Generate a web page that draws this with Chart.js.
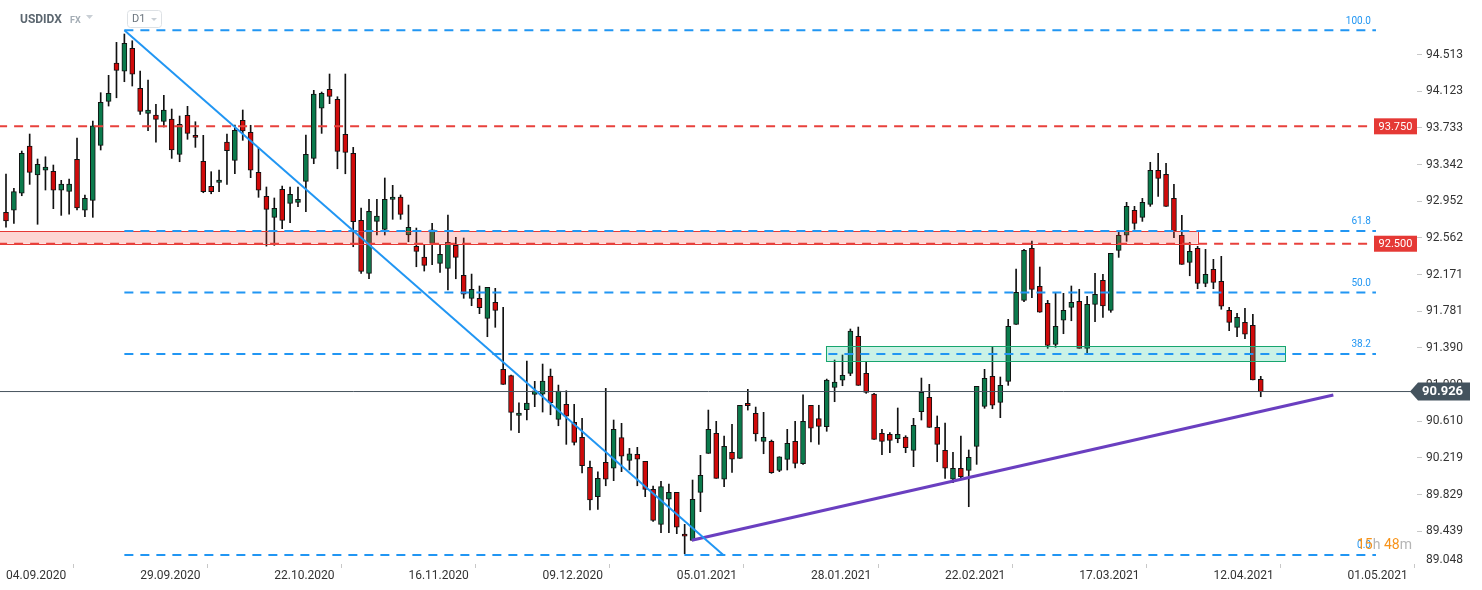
<!DOCTYPE html>
<html>
<head>
<meta charset="utf-8">
<script src="https://cdn.jsdelivr.net/npm/chart.js@4.4.1/dist/chart.umd.min.js"></script>
<style>
  html, body { margin: 0; padding: 0; background: #fff; }
</style>
</head>
<body>
<canvas id="usdidx" width="1482" height="590"></canvas>
<script>
// USDIDX D1 - candles as floating bars (wick + body)
const opens = [
  92.835, 92.856, 93.037, 93.540, 93.232, 93.282, 93.271, 93.069, 93.058, 93.399,
  92.856, 92.962, 93.548, 94.016, 94.424, 94.336, 94.580, 94.155, 93.888, 93.870,
  93.803, 93.828, 93.452, 93.867, 93.654, 93.377, 93.111, 93.154, 93.583, 93.388,
  93.814, 93.686, 93.260, 93.005, 92.781, 93.079, 92.930, 92.941, 93.164, 93.409,
  93.942, 94.144, 94.037, 93.665, 93.462, 92.749, 92.185, 92.738, 92.653, 92.973,
  92.997, 92.593, 92.472, 92.358, 92.504, 92.291, 92.238, 92.483, 92.164, 91.919,
  91.919, 91.706, 91.876, 91.163, 91.095, 90.673, 90.732, 90.896, 90.897, 91.091,
  90.630, 90.790, 90.598, 90.439, 90.119, 89.806, 90.173, 90.109, 90.435, 90.194,
  90.258, 90.183, 89.885, 89.512, 89.779, 89.853, 89.409, 89.342, 89.853, 90.268,
  90.481, 89.992, 90.279, 90.215, 90.801, 90.694, 90.396, 90.396, 90.087, 90.204,
  90.396, 90.158, 90.780, 90.637, 90.552, 90.969, 91.046, 91.120, 91.514, 91.120,
  90.900, 90.481, 90.471, 90.424, 90.442, 90.300, 90.711, 90.865, 90.545, 90.300,
  89.992, 90.109, 90.087, 90.343, 90.769, 91.088, 90.811, 91.035, 91.642, 91.897,
  92.451, 92.046, 91.865, 91.429, 91.685, 91.823, 91.887, 91.386, 91.855, 92.110,
  91.791, 92.430, 92.590, 92.856, 92.781, 92.919, 93.281, 93.239, 92.983, 92.590,
  92.302, 92.451, 92.078, 92.227, 92.100, 91.791, 91.610, 91.663, 91.631, 91.056
];
const highs = [
  93.242, 93.090, 93.487, 93.668, 93.402, 93.426, 93.338, 93.175, 93.189, 93.625,
  93.019, 93.806, 94.108, 94.293, 94.644, 94.733, 94.661, 94.339, 94.243, 93.984,
  94.080, 93.934, 93.860, 93.963, 93.799, 93.654, 93.267, 93.285, 93.668, 93.764,
  93.924, 93.761, 93.519, 93.104, 92.987, 93.114, 93.104, 93.104, 93.657, 94.133,
  94.115, 94.307, 94.065, 94.307, 93.526, 92.880, 92.973, 92.973, 93.200, 93.122,
  93.019, 92.912, 92.667, 92.483, 92.717, 92.486, 92.806, 92.568, 92.561, 92.177,
  92.050, 92.036, 92.025, 91.823, 91.102, 90.807, 91.251, 91.035, 91.219, 91.166,
  90.995, 90.935, 90.790, 90.641, 90.186, 90.072, 90.960, 90.623, 90.588, 90.321,
  90.332, 90.183, 89.920, 89.970, 89.942, 89.853, 89.512, 89.984, 90.247, 90.729,
  90.609, 90.453, 90.577, 90.780, 90.950, 90.761, 90.705, 90.410, 90.232, 90.524,
  90.609, 90.892, 90.780, 90.780, 91.059, 91.262, 91.315, 91.592, 91.613, 91.248,
  90.907, 90.524, 90.488, 90.751, 90.456, 90.641, 91.070, 91.003, 90.666, 90.591,
  90.279, 90.452, 90.304, 90.982, 91.163, 91.400, 91.081, 91.695, 92.231, 92.440,
  92.529, 92.252, 91.897, 91.972, 91.972, 92.050, 92.015, 91.940, 92.185, 92.174,
  92.398, 92.621, 92.941, 92.898, 92.983, 93.367, 93.463, 93.356, 93.132, 92.802,
  92.515, 92.472, 92.440, 92.334, 92.366, 91.823, 91.759, 91.812, 91.748, 91.088
];
const lows = [
  92.675, 92.717, 93.011, 93.132, 92.707, 93.072, 92.873, 92.802, 92.816, 92.859,
  92.787, 92.781, 93.498, 93.966, 94.054, 94.225, 94.179, 93.878, 93.703, 93.580,
  93.743, 93.409, 93.373, 93.612, 93.526, 93.043, 93.032, 93.054, 93.132, 93.245,
  93.601, 93.203, 92.994, 92.475, 92.483, 92.660, 92.724, 92.894, 92.841, 93.352,
  93.675, 93.991, 93.298, 93.245, 92.468, 92.185, 92.127, 92.593, 92.593, 92.760,
  92.760, 92.521, 92.255, 92.209, 92.276, 92.195, 92.007, 92.127, 91.919, 91.840,
  91.755, 91.510, 91.610, 91.003, 90.516, 90.488, 90.623, 90.765, 90.708, 90.679,
  90.562, 90.364, 90.357, 90.059, 89.665, 89.672, 89.923, 89.977, 90.073, 90.091,
  89.923, 89.807, 89.544, 89.423, 89.423, 89.413, 89.199, 89.342, 89.647, 90.268,
  90.002, 89.913, 90.066, 90.215, 90.729, 90.399, 90.264, 90.055, 90.073, 90.091,
  90.112, 90.151, 90.389, 90.364, 90.503, 90.818, 90.988, 91.095, 90.992, 90.907,
  90.417, 90.253, 90.275, 90.381, 90.275, 90.126, 90.623, 90.545, 90.179, 90.002,
  89.955, 89.992, 89.700, 90.151, 90.748, 90.743, 90.648, 90.992, 91.642, 91.882,
  91.925, 91.770, 91.386, 91.397, 91.542, 91.680, 91.386, 91.322, 91.669, 91.716,
  91.770, 92.355, 92.525, 92.653, 92.738, 92.898, 93.005, 92.898, 92.564, 92.281,
  92.159, 92.021, 92.042, 92.021, 91.802, 91.574, 91.510, 91.488, 91.049, 90.871
];
const closes = [
  92.742, 93.054, 93.462, 93.260, 93.345, 93.317, 93.069, 93.136, 93.136, 92.880,
  92.983, 93.756, 94.005, 94.101, 94.346, 94.634, 94.304, 93.910, 93.924, 93.824,
  93.924, 93.498, 93.771, 93.675, 93.633, 93.054, 93.054, 93.178, 93.490, 93.707,
  93.700, 93.282, 93.069, 92.866, 92.877, 92.749, 93.026, 92.973, 93.452, 94.094,
  94.101, 94.069, 93.484, 93.473, 92.734, 92.206, 92.845, 92.795, 92.973, 92.997,
  92.813, 92.675, 92.419, 92.270, 92.649, 92.387, 92.515, 92.355, 91.964, 92.015,
  91.819, 92.036, 91.791, 91.003, 90.705, 90.697, 90.804, 90.935, 91.038, 90.807,
  90.932, 90.665, 90.385, 90.136, 89.771, 90.002, 89.992, 90.524, 90.237, 90.264,
  90.205, 89.885, 89.555, 89.913, 89.853, 89.481, 89.385, 89.779, 90.034, 90.524,
  90.002, 90.343, 90.205, 90.780, 90.775, 90.474, 90.439, 90.062, 90.232, 90.375,
  90.162, 90.609, 90.535, 90.556, 91.049, 91.026, 91.099, 91.571, 90.992, 90.918,
  90.417, 90.396, 90.407, 90.471, 90.328, 90.566, 90.918, 90.545, 90.364, 90.109,
  90.109, 90.019, 90.226, 90.982, 91.067, 90.780, 90.992, 91.621, 91.983, 92.430,
  92.014, 91.770, 91.418, 91.621, 91.791, 91.876, 91.386, 91.855, 91.961, 91.837,
  92.398, 92.590, 92.898, 92.717, 92.941, 93.281, 93.196, 92.898, 92.635, 92.281,
  92.419, 92.078, 92.174, 92.089, 91.834, 91.663, 91.716, 91.536, 91.049, 90.926
];

// axis ticks (every 17 sessions)
const tickIdx = [0, 17, 34, 51, 68, 85, 102, 119, 136, 153, 170];
const tickLabels = ['04.09.2020', '29.09.2020', '22.10.2020', '16.11.2020', '09.12.2020', '05.01.2021',
                    '28.01.2021', '22.02.2021', '17.03.2021', '12.04.2021', '01.05.2021'];
const priceTicks = [94.513, 94.123, 93.733, 93.342, 92.952, 92.562, 92.171, 91.781,
                    91.390, 91.000, 90.610, 90.219, 89.829, 89.439];
const bottomTick = 89.048;

// drawings
const fibLevels = [94.772, 92.636, 91.981, 91.326, 89.186];
const fibNames = ['100.0', '61.8', '50.0', '38.2', '0.0'];
const fibRange = [15, 173.6];
const redLevels = [93.750, 92.500];
const redLevelRange = [-1, 173.6];
const blueTrend = [[15, 94.772], [90.9, 89.186]];
const purpleTrend = [[86.9, 89.342], [168.2, 90.89]];
const redZone = [-1, 151, 92.500, 92.635];
const greenZone = [103.9, 162.1, 91.251, 91.408];
const lastPrice = 90.926;

const GREEN = '#0b7a4c';
const RED = '#d10a0a';
const BLUE = '#2196f3';

const datasets = [];
datasets.push({
    type: 'bar', label: 'wick', order: 12, grouped: false,
    data: highs.map((h, i) => ({ x: i, y: [lows[i], h] })),
    backgroundColor: '#111', barThickness: 1, borderWidth: 0
});
datasets.push({
    type: 'bar', label: 'body', order: 11, grouped: false,
    data: opens.map((o, i) => ({ x: i, y: [o, closes[i]] })),
    backgroundColor: opens.map((o, i) => closes[i] >= o ? GREEN : RED),
    borderColor: '#111', borderWidth: 1, borderSkipped: false,
    barThickness: 5, minBarLength: 2
});
fibLevels.forEach(v => datasets.push({
    type: 'line', order: 2, data: [{ x: fibRange[0], y: v }, { x: fibRange[1], y: v }],
    borderColor: BLUE, borderWidth: 2, borderDash: [9, 7], pointRadius: 0
}));
redLevels.forEach(v => datasets.push({
    type: 'line', order: 2, data: [{ x: redLevelRange[0], y: v }, { x: redLevelRange[1], y: v }],
    borderColor: '#e8413c', borderWidth: 2, borderDash: [9, 7], pointRadius: 0
}));
datasets.push({
    type: 'line', order: 1, data: blueTrend.map(p => ({ x: p[0], y: p[1] })),
    borderColor: BLUE, borderWidth: 2, pointRadius: 0
});
datasets.push({
    type: 'line', order: 1, data: purpleTrend.map(p => ({ x: p[0], y: p[1] })),
    borderColor: '#6a3fc0', borderWidth: 3, pointRadius: 0
});
datasets.push({
    type: 'line', order: 3, data: [{ x: -1, y: lastPrice }, { x: 180, y: lastPrice }],
    borderColor: '#45525c', borderWidth: 1, pointRadius: 0
});

// zones go over the candles but under the lines
const zonesPlugin = {
    id: 'zones',
    afterDatasetDraw(chart, args) {
        if (args.index !== 1) return;
        const { ctx, scales: { x, y } } = chart;
        const drawZone = (z, fill, stroke) => {
            const x0 = x.getPixelForValue(z[0]), x1 = x.getPixelForValue(z[1]);
            const y0 = y.getPixelForValue(z[3]), y1 = y.getPixelForValue(z[2]);
            ctx.fillStyle = fill;
            ctx.fillRect(x0, y0, x1 - x0, y1 - y0);
            ctx.strokeStyle = stroke;
            ctx.lineWidth = 1;
            ctx.strokeRect(Math.round(x0) + 0.5, Math.round(y0) + 0.5, Math.round(x1 - x0), Math.round(y1 - y0));
        };
        ctx.save();
        drawZone(redZone, 'rgba(244, 67, 54, 0.22)', '#e53935');
        drawZone(greenZone, 'rgba(38, 200, 150, 0.24)', '#17a56e');
        ctx.restore();
    }
};

const labelsPlugin = {
    id: 'labels',
    afterDraw(chart) {
        const { ctx, chartArea, scales: { x, y } } = chart;
        ctx.save();

        // header
        ctx.textBaseline = 'middle';
        ctx.font = 'bold 12px Roboto';
        ctx.fillStyle = '#5c6770';
        ctx.fillText('USDIDX', 20, 20);
        ctx.font = 'bold 9px Roboto';
        ctx.fillStyle = '#a3acb4';
        ctx.fillText('FX', 70, 21);
        ctx.fillStyle = '#c9cfd5';
        ctx.beginPath(); ctx.moveTo(86, 15); ctx.lineTo(93, 15); ctx.lineTo(89.5, 19); ctx.fill();
        ctx.strokeStyle = '#dde1e5';
        ctx.lineWidth = 1;
        ctx.beginPath();
        ctx.roundRect(127.5, 10.5, 34, 17, 3);
        ctx.stroke();
        ctx.font = '11px Roboto';
        ctx.fillStyle = '#6b757e';
        ctx.fillText('D1', 132, 19.5);
        ctx.fillStyle = '#c9cfd5';
        ctx.beginPath(); ctx.moveTo(151, 18); ctx.lineTo(157, 18); ctx.lineTo(154, 21); ctx.fill();

        // fibonacci labels
        ctx.font = '10px Roboto';
        ctx.fillStyle = BLUE;
        ctx.textAlign = 'right';
        ctx.textBaseline = 'bottom';
        const fx = x.getPixelForValue(fibRange[1]) - 5;
        fibLevels.forEach((v, i) => ctx.fillText(fibNames[i], fx, y.getPixelForValue(v) - 4));

        // countdown
        ctx.textAlign = 'left';
        ctx.textBaseline = 'middle';
        ctx.font = '14px Roboto';
        let cx = 1357;
        [['15', '#f7931a'], ['h ', '#b5b5b5'], ['48', '#f7931a'], ['m', '#b5b5b5']].forEach(p => {
            ctx.fillStyle = p[1];
            ctx.fillText(p[0], cx, 545);
            cx += ctx.measureText(p[0]).width;
        });

        // red level boxes
        ctx.font = '11px Roboto';
        ctx.textAlign = 'center';
        redLevels.forEach(v => {
            const py = y.getPixelForValue(v);
            ctx.fillStyle = '#e53935';
            ctx.fillRect(chartArea.right - 43, py - 8, 43, 16);
            ctx.fillStyle = '#fff';
            ctx.fillText(v.toFixed(3), chartArea.right - 21.5, py + 0.5);
        });

        // bottom price label (clipped by the frame in the original)
        ctx.font = '12px Roboto';
        ctx.textAlign = 'left';
        ctx.fillStyle = '#333';
        ctx.fillText(bottomTick.toFixed(3), chartArea.right + 9, 560);

        // last price tag
        const ty = y.getPixelForValue(lastPrice);
        ctx.fillStyle = '#44535e';
        ctx.beginPath();
        ctx.moveTo(1410, ty);
        ctx.lineTo(1418, ty - 9);
        ctx.lineTo(1470, ty - 9);
        ctx.lineTo(1470, ty + 9);
        ctx.lineTo(1418, ty + 9);
        ctx.closePath();
        ctx.fill();
        ctx.font = 'bold 13px Roboto';
        ctx.fillStyle = '#fff';
        ctx.fillText(lastPrice.toFixed(3), 1422, ty + 0.5);

        ctx.restore();
    }
};

Chart.defaults.font.family = 'Roboto';

new Chart(document.getElementById('usdidx'), {
    type: 'bar',
    data: { datasets: datasets },
    options: {
        responsive: false,
        animation: false,
        layout: { padding: 0 },
        plugins: { legend: { display: false }, tooltip: { enabled: false } },
        scales: {
            x: {
                type: 'linear', offset: false, min: -0.76, max: 178.8,
                afterBuildTicks: s => { s.ticks = tickIdx.map(v => ({ value: v })); },
                afterFit: s => { s.height = 26; s.paddingLeft = 0; s.paddingRight = 0; },
                ticks: {
                    callback: (v, i) => tickLabels[i], align: 'start', autoSkip: false,
                    maxRotation: 0, color: '#333', font: { size: 12 }, padding: 1
                },
                grid: { drawOnChartArea: false, tickLength: 4, color: '#c8c8c8' },
                border: { display: false }
            },
            y: {
                type: 'linear', position: 'right', min: 89.09, max: 95.095,
                afterBuildTicks: s => { s.ticks = priceTicks.map(v => ({ value: v })); },
                afterFit: s => { s.width = 65; s.paddingTop = 0; s.paddingBottom = 0; },
                ticks: {
                    callback: v => v.toFixed(3), color: '#333', font: { size: 12 }, padding: 4
                },
                grid: { drawOnChartArea: false, tickLength: 5, color: '#c8c8c8' },
                border: { display: false }
            }
        }
    },
    plugins: [zonesPlugin, labelsPlugin]
});
</script>
</body>
</html>
